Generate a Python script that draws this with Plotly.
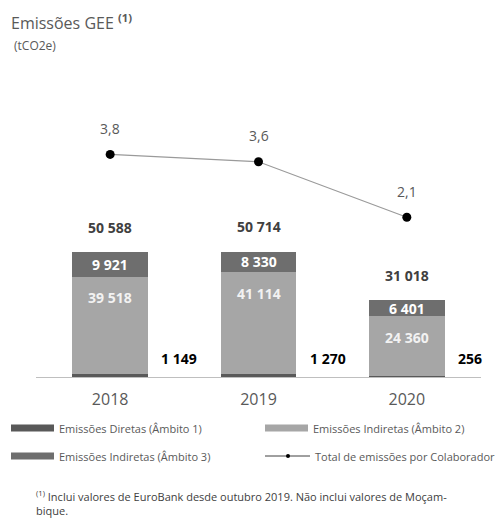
import plotly.graph_objects as go

years = ["2018", "2019", "2020"]
ambito1 = [1149, 1270, 256]
ambito2 = [39518, 41114, 24360]
ambito3 = [9921, 8330, 6401]
totais = [50588, 50714, 31018]
por_colaborador = [3.8, 3.6, 2.1]

legend_names = ["Emissões Diretas (Âmbito 1)", "Emissões Indiretas (Âmbito 2)",
                "Emissões Indiretas (Âmbito 3)", "Total de emissões por Colaborador"]

def fmt(v):
    return f"{v:,}".replace(",", " ")

def fmtd(v):
    return f"{v:.1f}".replace(".", ",")

C1 = "#595959"
C2 = "#a6a6a6"
C3 = "#6e6e6e"
FONT = "Open Sans"

W, H = 502, 527
L, R, T, B = 36, 21, 100, 150
PW = W - L - R
PH = H - T - B

def px(x):
    return (x - L) / PW

def py(y):
    return (H - B - y) / PH

fig = go.Figure()
fig.add_bar(x=years, y=ambito1, name=legend_names[0], marker_color=C1, width=0.51,
            marker_line_width=0)
fig.add_bar(x=years, y=ambito2, name=legend_names[1], marker_color=C2, width=0.51,
            marker_line_width=0)
fig.add_bar(x=years, y=ambito3, name=legend_names[2], marker_color=C3, width=0.51,
            marker_line_width=0)
fig.add_scatter(x=years, y=por_colaborador, name=legend_names[3], yaxis="y2",
                mode="lines+markers", line=dict(color="#9a9a9a", width=1.2),
                marker=dict(color="#000000", size=9))

ann = []
for i, yr in enumerate(years):
    # totals above bars
    ann.append(dict(x=i, xref="x", y=totais[i], yref="y", text=f"<b>{fmt(totais[i])}</b>",
                    showarrow=False, yshift=25, font=dict(size=14, color="#404040", family=FONT)))
    # ambito 3 centered
    ann.append(dict(x=i, xref="x", y=ambito1[i] + ambito2[i] + ambito3[i] / 2, yref="y",
                    text=f"<b>{fmt(ambito3[i])}</b>", showarrow=False,
                    font=dict(size=14, color="white", family=FONT)))
    # ambito 2 near top
    ann.append(dict(x=i, xref="x", y=ambito1[i] + ambito2[i], yref="y",
                    text=f"<b>{fmt(ambito2[i])}</b>", showarrow=False, yshift=-21,
                    font=dict(size=14, color="#f2f2f2", family=FONT)))
    # ambito 1 to the right
    ann.append(dict(x=i, xref="x", y=0, yref="y", text=f"<b>{fmt(ambito1[i])}</b>",
                    showarrow=False, xanchor="left", xshift=49, yshift=19,
                    font=dict(size=14, color="#000000", family=FONT)))
    # line labels
    ann.append(dict(x=i, xref="x", y=por_colaborador[i], yref="y2", text=fmtd(por_colaborador[i]),
                    showarrow=False, yshift=26, font=dict(size=14, color="#595959", family=FONT)))

# title
ann.append(dict(xref="paper", yref="paper", x=px(9), y=py(22), xanchor="left", yanchor="middle",
                text="Emissões GEE <sup><b>(1)</b></sup>", showarrow=False,
                font=dict(size=16, color="#595959", family=FONT)))
ann.append(dict(xref="paper", yref="paper", x=px(12), y=py(45), xanchor="left", yanchor="middle",
                text="(tCO2e)", showarrow=False, font=dict(size=12, color="#595959", family=FONT)))

# manual legend
shapes = []
leg = [(11, 428, C1, legend_names[0]), (265, 428, C2, legend_names[1]),
       (11, 456, C3, legend_names[2])]
for x0, yc, col, name in leg:
    shapes.append(dict(type="rect", xref="paper", yref="paper", x0=px(x0), x1=px(x0 + 43),
                       y0=py(yc - 3.5), y1=py(yc + 3.5), fillcolor=col, line_width=0))
    ann.append(dict(xref="paper", yref="paper", x=px(x0 + 46), y=py(yc), xanchor="left",
                    yanchor="middle", text=name, showarrow=False,
                    font=dict(size=11, color="#595959", family=FONT)))
shapes.append(dict(type="line", xref="paper", yref="paper", x0=px(265), x1=px(310),
                   y0=py(456), y1=py(456), line=dict(color="#404040", width=1)))
shapes.append(dict(type="circle", xref="paper", yref="paper", x0=px(286), x1=px(290),
                   y0=py(458), y1=py(454), fillcolor="#000000", line_width=0))
ann.append(dict(xref="paper", yref="paper", x=px(313), y=py(456), xanchor="left",
                yanchor="middle", text=legend_names[3], showarrow=False,
                font=dict(size=11, color="#595959", family=FONT)))

# footnote
ann.append(dict(xref="paper", yref="paper", x=px(34), y=py(486), xanchor="left", yanchor="top",
                align="left", showarrow=False,
                text="<sup>(1)</sup> Inclui valores de EuroBank desde outubro 2019. Não inclui valores de Moçam-<br>bique.",
                font=dict(size=11, color="#404040", family=FONT)))

fig.update_layout(
    width=W, height=H,
    margin=dict(l=L, r=R, t=T, b=B, pad=0),
    barmode="stack",
    showlegend=False,
    plot_bgcolor="white", paper_bgcolor="white",
    font=dict(family=FONT, color="#595959"),
    xaxis=dict(type="category", range=[-0.5, 2.5], showline=True, linecolor="#bfbfbf",
               linewidth=1, ticks="", showgrid=False, tickfont=dict(size=16, color="#595959"),
               ticklabelstandoff=8),
    yaxis=dict(range=[0, 112100], visible=False, showgrid=False),
    yaxis2=dict(range=[-2.216, 5.27], overlaying="y", visible=False, showgrid=False),
    annotations=ann,
    shapes=shapes,
)

fig.write_html("out.html", config={"displayModeBar": False},
               post_script="document.body.style.margin='0px';")
